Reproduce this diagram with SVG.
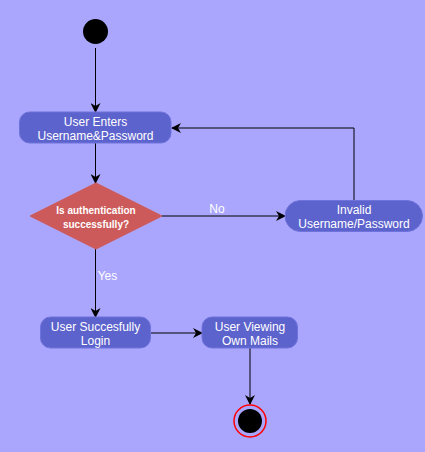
<svg xmlns="http://www.w3.org/2000/svg" width="425" height="452" viewBox="0 0 425 452">
<style>
.node{fill:#5D63CD;stroke:#6E72DA;stroke-width:1}
.lbl{font-family:"Liberation Sans",Arial,sans-serif;font-size:12px;fill:#FFFFFF;text-anchor:middle}
.small{font-size:10px;font-weight:bold}
.edge{fill:none;stroke:#000000;stroke-width:1}
</style>
<defs>
<marker id="arr" viewBox="0 0 10 10" refX="9" refY="5" markerWidth="10" markerHeight="10" markerUnits="userSpaceOnUse" orient="auto">
<path d="M0,0 L10,5 L0,10 L3,5 Z" fill="#000000"/>
</marker>
</defs>
<rect x="0" y="0" width="425" height="452" fill="#AAA6FD"/>
<g id="connectors">
<path class="edge" d="M95.5,48 L95.5,112" marker-end="url(#arr)"/>
<path class="edge" d="M95.5,143 L95.5,183" marker-end="url(#arr)"/>
<path class="edge" d="M162,216 L285,216" marker-end="url(#arr)"/>
<path class="edge" d="M354,200.5 L354,128 L172,128" marker-end="url(#arr)"/>
<path class="edge" d="M95.5,249 L95.5,317" marker-end="url(#arr)"/>
<path class="edge" d="M151,333 L202,333" marker-end="url(#arr)"/>
<path class="edge" d="M250,348 L250,404" marker-end="url(#arr)"/>
<text class="lbl" x="217" y="213">No</text>
<text class="lbl" x="107.5" y="280">Yes</text>
</g>
<g id="start">
<circle cx="95.5" cy="31.5" r="12.5" fill="#000000"/>
</g>
<g id="enter">
<rect class="node" x="19.5" y="112" width="151.5" height="31" rx="10"/>
<text class="lbl" x="95.5" y="126">User Enters</text>
<text class="lbl" x="95.5" y="140">Username&amp;Password</text>
</g>
<g id="decision">
<polygon points="96,183 162,216 96,249 30,216" fill="#CD5A5A" stroke="#CD5A5A"/>
<text class="lbl small" x="96" y="214">Is authentication</text>
<text class="lbl small" x="96" y="227.5">successfully?</text>
</g>
<g id="invalid">
<rect class="node" x="285" y="200.5" width="137.5" height="31" rx="15.5"/>
<text class="lbl" x="354" y="214">Invalid</text>
<text class="lbl" x="354" y="228">Username/Password</text>
</g>
<g id="login">
<rect class="node" x="40.5" y="317" width="110" height="31" rx="10"/>
<text class="lbl" x="95.5" y="331">User Succesfully</text>
<text class="lbl" x="95.5" y="345">Login</text>
</g>
<g id="viewing">
<rect class="node" x="202" y="317" width="95.5" height="31" rx="10"/>
<text class="lbl" x="250" y="331">User Viewing</text>
<text class="lbl" x="250" y="345">Own Mails</text>
</g>
<g id="end">
<circle cx="250" cy="421" r="16" fill="none" stroke="#FF0000" stroke-width="1.5"/>
<circle cx="250" cy="421" r="12" fill="#000000"/>
</g>
</svg>
